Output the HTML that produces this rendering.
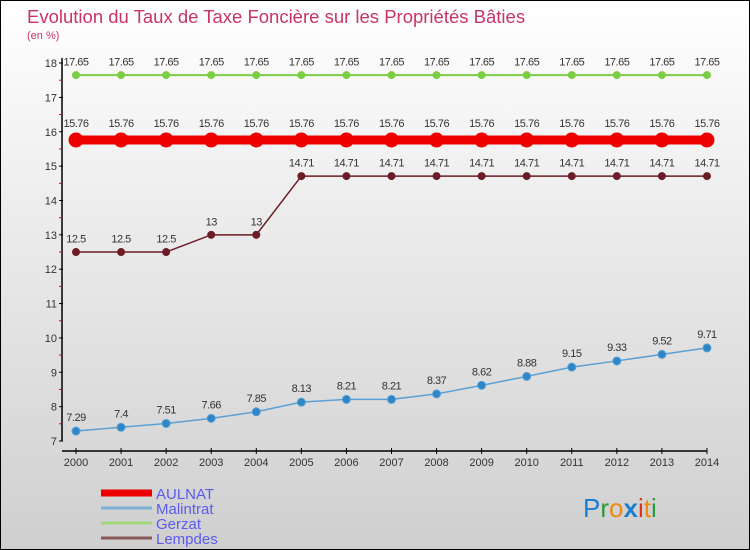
<!DOCTYPE html>
<html><head><meta charset="utf-8"><style>
body{margin:0}
#c{width:748px;height:548px;border:1px solid #000;background:linear-gradient(#ffffff,#cfcfcf);position:relative;overflow:hidden;font-family:"Liberation Sans",sans-serif}
</style></head><body>
<div id="c">
<svg id="s" width="748" height="548" xmlns="http://www.w3.org/2000/svg">
<text x="26" y="22" font-size="18.5" fill="#c8336a">Evolution du Taux de Taxe Foncière sur les Propriétés Bâties</text>
<text x="26" y="38" font-size="11" fill="#c8336a">(en %)</text>
<g id="axes"></g><g id="series"></g><g id="legend"></g>
<text x="582" y="516" font-size="26" font-family="Liberation Sans, sans-serif"><tspan fill="#1a7fd0">P</tspan><tspan fill="#2a9a3a">r</tspan><tspan fill="#f08a10">o</tspan><tspan fill="#1a7fd0" font-weight="bold">x</tspan><tspan fill="#e03020">i</tspan><tspan fill="#f08a10">t</tspan><tspan fill="#2a9a3a">i</tspan></text>
</svg>
</div>
<script>
const years=[2000,2001,2002,2003,2004,2005,2006,2007,2008,2009,2010,2011,2012,2013,2014];
const aulnat=[15.76,15.76,15.76,15.76,15.76,15.76,15.76,15.76,15.76,15.76,15.76,15.76,15.76,15.76,15.76];
const malintrat=[7.29,7.4,7.51,7.66,7.85,8.13,8.21,8.21,8.37,8.62,8.88,9.15,9.33,9.52,9.71];
const gerzat=[17.65,17.65,17.65,17.65,17.65,17.65,17.65,17.65,17.65,17.65,17.65,17.65,17.65,17.65,17.65];
const lempdes=[12.5,12.5,12.5,13,13,14.71,14.71,14.71,14.71,14.71,14.71,14.71,14.71,14.71,14.71];
const yTicks=[7,8,9,10,11,12,13,14,15,16,17,18];
const NS="http://www.w3.org/2000/svg";
const X=i=>75+i*45.07;
const Y=v=>440-(v-7)*34.36;
function mk(p,t,a){const e=document.createElementNS(NS,t);for(const k in a)e.setAttribute(k,a[k]);p.appendChild(e);return e;}
const ax=document.getElementById('axes');
let e=mk(ax,'line',{x1:61,y1:57,x2:61,y2:440,stroke:'#000','stroke-width':1.5});

e=mk(ax,'line',{x1:61,y1:450,x2:706,y2:450,stroke:'#000','stroke-width':1.5});

yTicks.forEach(v=>{
 mk(ax,'line',{x1:58,y1:Y(v),x2:62,y2:Y(v),stroke:'#000'});
 if(v<18)mk(ax,'line',{x1:58,y1:Y(v+0.5),x2:61,y2:Y(v+0.5),stroke:'#e00'});
 const t=mk(ax,'text',{x:56,y:Y(v)+4,'font-size':11,'text-anchor':'end',fill:'#333'});t.textContent=v;
 
});
years.forEach((y,i)=>{
 mk(ax,'line',{x1:X(i),y1:447,x2:X(i),y2:453,stroke:'#000'});
 const t=mk(ax,'text',{x:X(i),y:465,'font-size':11,'text-anchor':'middle',fill:'#333'});t.textContent=y;
 
});
const sg=document.getElementById('series');
function series(name,data,color,lw,r,dot){
 const g=mk(sg,'g',{});
 
 const pl=mk(g,'polyline',{points:data.map((v,i)=>X(i)+','+Y(v)).join(' '),fill:'none',stroke:color,'stroke-width':lw});
 
 data.forEach((v,i)=>{
  const c=mk(g,'circle',{cx:X(i),cy:Y(v),r:r,fill:dot,stroke:color,'stroke-width':1});
  
  const t=mk(g,'text',{x:X(i),y:Y(v)-r-6,'font-size':11,'text-anchor':'middle',fill:'#333','letter-spacing':'-0.5'});t.textContent=v;
  
 });
}
series('gerzat',gerzat,'#7ccd44',2,3.5,'#7ccd44');
series('aulnat',aulnat,'#ee0000',9,7,'#ee0000');
series('lempdes',lempdes,'#6b1c24',1.5,3.5,'#6b1c24');
series('malintrat',malintrat,'#5aa0d4',1.5,4,'#2e86c8');
const lg=document.getElementById('legend');
[['AULNAT','#ee0000',7],['Malintrat','#7fb0d8',3],['Gerzat','#9fd47a',3],['Lempdes','#8a5a5a',3]].forEach((d,i)=>{
 const y=492+i*15;
 const l=mk(lg,'line',{x1:100,y1:y,x2:151,y2:y,stroke:d[1],'stroke-width':d[2]});
 
 const t=mk(lg,'text',{x:155,y:y+6,'font-size':15,fill:'#5b5bf0'});t.textContent=d[0];
 
});
</script>
</body></html>
